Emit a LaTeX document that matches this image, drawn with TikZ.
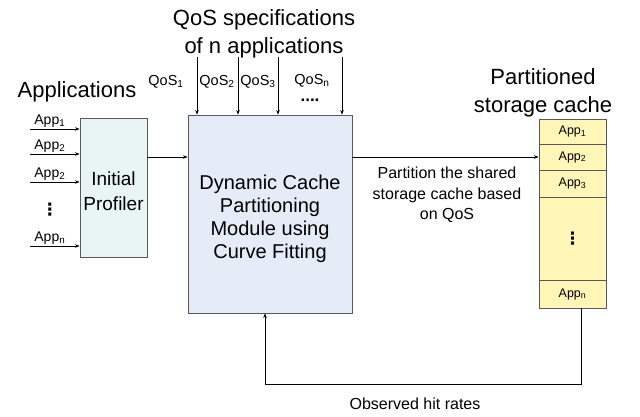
\documentclass[tikz,border=0pt]{standalone}
\usepackage{fontspec}
\setmainfont{Liberation Sans}
\newfontfamily\dotsfont{DejaVu Sans}
\usetikzlibrary{positioning}
\usetikzlibrary{arrows.meta}

\definecolor{proffill}{HTML}{E9F5F4}
\definecolor{modfill}{HTML}{E5ECF7}
\definecolor{cachefill}{HTML}{FFF6B8}
\definecolor{boxline}{HTML}{595959}

\newcommand{\sub}[1]{\textsubscript{#1}}
\newcommand{\vdotsbold}{{\dotsfont\bfseries ⋮}}

\tikzset{
  block/.style={draw=boxline,line width=0.9pt,inner sep=0pt},
  blocktext/.style={align=center,inner sep=0pt},
  cell/.style={draw=boxline,line width=0.9pt,fill=cachefill,minimum width=67pt,inner sep=0pt,font=\fontsize{12.5}{14}\selectfont},
  heading/.style={align=center,font=\fontsize{22}{28}\selectfont},
  small/.style={font=\fontsize{14}{16}\selectfont,inner sep=1pt},
  qos/.style={font=\fontsize{14.5}{16}\selectfont,inner sep=0pt},
  note/.style={align=center,font=\fontsize{16}{20.5}\selectfont}
}

\begin{document}
\begin{tikzpicture}[x=1pt,y=-1pt,>={Stealth[length=4.5pt,width=3.5pt]},line width=0.7pt]
  \useasboundingbox (0,0) rectangle (640,417);

  \node[block,fill=proffill,minimum width=67pt,minimum height=139pt] (prof) at (113.5,187.5) {};
  \node[blocktext,font=\fontsize{19}{25}\selectfont] (proftext) at (113.5,191) {Initial\\Profiler};
  \node[block,fill=modfill,minimum width=164pt,minimum height=198pt] (main) at (270,214) {};
  \node[blocktext,font=\fontsize{20}{23}\selectfont] (maintext) at (270,218.5)
    {Dynamic Cache\\Partitioning\\Module using\\Curve Fitting};

  \node[cell,minimum height=25pt] (c1) at (572.5,131.5) {App\sub{1}};
  \node[cell,minimum height=26pt] (c2) at (572.5,157)   {App\sub{2}};
  \node[cell,minimum height=27pt] (c3) at (572.5,183.5) {App\sub{3}};
  \node[cell,minimum height=83pt,font=\fontsize{17}{17}\selectfont] (cd) at (572.5,238.5) {\vdotsbold};
  \node[cell,minimum height=28pt] (cn) at (572.5,294)   {App\sub{n}};

  \node[heading] (qtitle) at (264,34)  {QoS specifications\\of n applications};
  \node[heading] (apps)   at (77,92)   {Applications};
  \node[heading] (ctitle) at (543,93)  {Partitioned\\storage cache};

  \coordinate (in1) at (30,129);
  \coordinate (in2) at (30,154);
  \coordinate (in3) at (30,182);
  \coordinate (inn) at (30,246);
  \draw[->] (in1) -- node[small,above,pos=0.4] {App\sub{1}} (in1 -| prof.west);
  \draw[->] (in2) -- node[small,above,pos=0.4] {App\sub{2}} (in2 -| prof.west);
  \draw[->] (in3) -- node[small,above,pos=0.4] {App\sub{2}} (in3 -| prof.west);
  \draw[->] (inn) -- node[small,above,pos=0.4] {App\sub{n}} (inn -| prof.west);
  \node[font=\fontsize{17}{17}\selectfont,inner sep=0pt] (idots) at (50,210) {\vdotsbold};

  \coordinate (q1) at (197,57);
  \coordinate (q2) at (238,57);
  \coordinate (q3) at (278,57);
  \coordinate (qn) at (342,57);
  \foreach \q in {q1,q2,q3,qn}
    \draw[->] (\q) -- (\q |- main.north);
  \node[qos] (l1) at (166,82) {QoS\sub{1}};
  \node[qos] (l2) at (217,82) {QoS\sub{2}};
  \node[qos] (l3) at (258,82) {QoS\sub{3}};
  \node[qos] (ln) at (312,81) {QoS\sub{n}};
  \node[font=\fontsize{17}{17}\selectfont\bfseries,inner sep=0pt,text height=3pt,text depth=0pt]
    (qdots) at (310,100) {....};

  \draw[->] (prof.east |- c2) -- (main.west |- c2);
  \draw[->] (main.east |- c2) -- (c2.west);
  \node[note] (part) at (447,195) {Partition the shared\\storage cache based\\on QoS};

  \draw[->] ([xshift=8.5pt]cn.south) |- ([xshift=-5pt,yshift=-71pt]main.south) -- ([xshift=-5pt]main.south);
  \node[note] (obs) at (415,404) {Observed hit rates};
\end{tikzpicture}
\end{document}
